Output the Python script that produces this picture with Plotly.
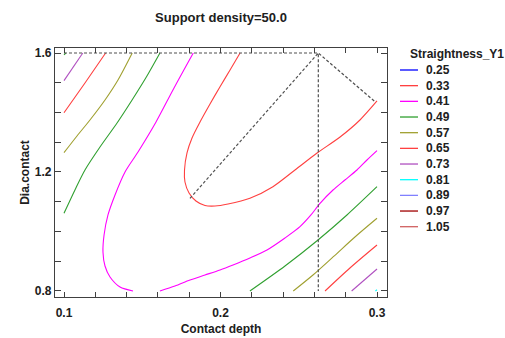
import plotly.graph_objects as go

# ---- legend levels / colours ----
levels = ["0.25", "0.33", "0.41", "0.49", "0.57", "0.65", "0.73", "0.81", "0.89", "0.97", "1.05"]
level_colors = ["#0000ff", "#ff4040", "#ff00ff", "#30a030", "#a0a030", "#ff4040",
                "#b050c0", "#00ffff", "#8080ff", "#a00000", "#d06060"]

# ---- contour lines (Contact depth, Dia.contact) ----
# 0.33 (inner U)
c033_x = [0.2125, 0.2061, 0.1997, 0.1933, 0.1869, 0.1818, 0.1786, 0.1770, 0.1773, 0.1799, 0.1843,
          0.1901, 0.1965, 0.2048, 0.2188, 0.2335, 0.2476, 0.2617, 0.2764, 0.2891, 0.3000]
c033_y = [1.6000, 1.5429, 1.4867, 1.4286, 1.3681, 1.3143, 1.2639, 1.2067, 1.1664, 1.1294, 1.1025,
          1.0874, 1.0857, 1.0924, 1.1116, 1.1506, 1.2067, 1.2639, 1.3176, 1.3748, 1.4387]
# 0.41 left branch
c041a_x = [0.1826, 0.1703, 0.1588, 0.1473, 0.1390, 0.1326, 0.1281, 0.1256, 0.1249, 0.1262, 0.1294, 0.1358, 0.1441]
c041a_y = [1.6000, 1.4824, 1.3681, 1.2672, 1.2000, 1.1227, 1.0555, 0.9882, 0.9311, 0.8840, 0.8471, 0.8134, 0.8000]
# 0.41 right branch
c041b_x = [0.1613, 0.1709, 0.1805, 0.1901, 0.1997, 0.2080, 0.2188, 0.2297, 0.2412, 0.2508, 0.2578,
           0.2636, 0.2719, 0.2795, 0.2872, 0.2936, 0.3000]
c041b_y = [0.8000, 0.8168, 0.8370, 0.8538, 0.8706, 0.8874, 0.9109, 0.9378, 0.9782, 1.0162, 1.0555,
           1.0948, 1.1395, 1.1731, 1.2067, 1.2403, 1.2717]
# 0.49
c049a_x = [0.1000, 0.1070, 0.1134, 0.1230, 0.1339, 0.1435, 0.1530, 0.1613]
c049a_y = [1.0610, 1.1395, 1.2067, 1.2840, 1.3647, 1.4420, 1.5227, 1.6000]
c049b_x = [0.2188, 0.2412, 0.2623, 0.2808, 0.3000]
c049b_y = [0.8000, 0.8840, 0.9714, 1.0555, 1.1506]
# 0.57
c057a_x = [0.1000, 0.1083, 0.1166, 0.1262, 0.1345, 0.1436]
c057a_y = [1.2649, 1.3210, 1.3748, 1.4420, 1.5092, 1.6000]
c057b_x = [0.2465, 0.2591, 0.2721, 0.2859, 0.3000]
c057b_y = [0.8000, 0.8538, 0.9153, 0.9815, 1.0444]
# 0.65
c065a_x = [0.1000, 0.1134, 0.1266]
c065a_y = [1.3993, 1.4992, 1.6000]
c065b_x = [0.2668, 0.2827, 0.3000]
c065b_y = [0.8000, 0.8773, 0.9546]
# 0.73
c073a_x = [0.1000, 0.1120]
c073a_y = [1.5070, 1.6000]
c073b_x = [0.2838, 0.3000]
c073b_y = [0.8000, 0.8740]
# 0.81 (tiny corners)
c081a_x = [0.1000, 0.1012]
c081a_y = [1.5940, 1.6000]
c081b_x = [0.2990, 0.3000]
c081b_y = [0.8000, 0.8040]

# dashed path
dash_x = [0.1000, 0.2625, 0.2987]
dash_y = [1.6000, 1.6000, 1.4363]
dash2_x = [0.1805, 0.2625, 0.2625]
dash2_y = [1.1116, 1.6000, 0.8000]

fig = go.Figure()

segments = [
    (c033_x, c033_y, 1), (c041a_x, c041a_y, 2), (c041b_x, c041b_y, 2),
    (c049a_x, c049a_y, 3), (c049b_x, c049b_y, 3),
    (c057a_x, c057a_y, 4), (c057b_x, c057b_y, 4),
    (c065a_x, c065a_y, 5), (c065b_x, c065b_y, 5),
    (c073a_x, c073a_y, 6), (c073b_x, c073b_y, 6),
    (c081a_x, c081a_y, 3), (c081b_x, c081b_y, 7),
]
for xs, ys, li in segments:
    fig.add_trace(go.Scatter(x=xs, y=ys, mode="lines", showlegend=False,
                             line=dict(color=level_colors[li], width=1.1, shape="spline", smoothing=0.8),
                             hoverinfo="skip"))

for xs, ys in [(dash_x, dash_y), (dash2_x, dash2_y)]:
    fig.add_trace(go.Scatter(x=xs, y=ys, mode="lines", showlegend=False,
                             line=dict(color="#505050", width=1.2, dash="3px,2px"),
                             hoverinfo="skip"))

font_main = "Arial, Liberation Sans, sans-serif"
tick_font = dict(family=font_main, size=12, color="#202020")

fig.update_xaxes(range=[0.09425, 0.30639], tickvals=[0.1, 0.2, 0.3], ticktext=["<b>0.1</b>", "<b>0.2</b>", "<b>0.3</b>"],
                 ticks="inside", ticklen=5, tickcolor="#404040", mirror="ticks", ticklabelstandoff=4,
                 showline=True, linecolor="#404040", linewidth=1.2, showgrid=False, zeroline=False, automargin=False,
                 minor=dict(tickvals=[0.12, 0.14, 0.16, 0.18, 0.22, 0.24, 0.26, 0.28], ticks="inside", ticklen=5, tickcolor="#404040"),
                 tickfont=tick_font,
                 title=dict(text="<b>Contact depth</b>", font=dict(family=font_main, size=12, color="#202020"), standoff=6))
fig.update_yaxes(range=[0.7798, 1.6168], tickvals=[0.8, 1.2, 1.6], ticktext=["<b>0.8</b>", "<b>1.2</b>", "<b>1.6</b>"],
                 ticks="inside", ticklen=6, tickcolor="#404040", mirror="ticks",
                 showline=True, linecolor="#404040", linewidth=1.2, showgrid=False, zeroline=False, automargin=False,
                 minor=dict(tickvals=[0.9, 1.0, 1.1, 1.3, 1.4, 1.5], ticks="inside", ticklen=6, tickcolor="#404040"),
                 tickfont=tick_font,
                 title=dict(text="<b>Dia.contact</b>", font=dict(family=font_main, size=12, color="#202020"), standoff=2))

# manual legend (paper coordinates)
L, T, W, H = 55, 48, 332, 249
def px2paper(px, py):
    return (px - L) / W, (T + H - py) / H

annotations = []
shapes = []
tx, ty = px2paper(408, 54)
annotations.append(dict(x=tx, y=ty, xref="paper", yref="paper", text="<b>Straightness_Y1</b>",
                        showarrow=False, xanchor="left", yanchor="middle",
                        font=dict(family=font_main, size=12, color="#202020")))
for i, (lab, col) in enumerate(zip(levels, level_colors)):
    py = 70 + i * 15.67
    x0, y0 = px2paper(400, py)
    x1, _ = px2paper(418, py)
    shapes.append(dict(type="line", xref="paper", yref="paper", x0=x0, x1=x1, y0=y0, y1=y0,
                       line=dict(color=col, width=1.3)))
    xt, _ = px2paper(424, py)
    annotations.append(dict(x=xt, y=y0, xref="paper", yref="paper", text="<b>" + lab + "</b>",
                            showarrow=False, xanchor="left", yanchor="middle",
                            font=dict(family=font_main, size=12, color="#202020")))

fig.update_layout(
    width=505, height=338,
    margin=dict(l=L, r=505 - L - W, t=T, b=338 - T - H, autoexpand=False),
    paper_bgcolor="white", plot_bgcolor="white",
    title=dict(text="<b>Support density=50.0</b>", x=(L + W / 2) / 505, xanchor="center",
               y=1 - 17 / 338, yanchor="middle", font=dict(family=font_main, size=13, color="#202020")),
    showlegend=False,
    annotations=annotations, shapes=shapes,
)

fig.write_html("out.html")
